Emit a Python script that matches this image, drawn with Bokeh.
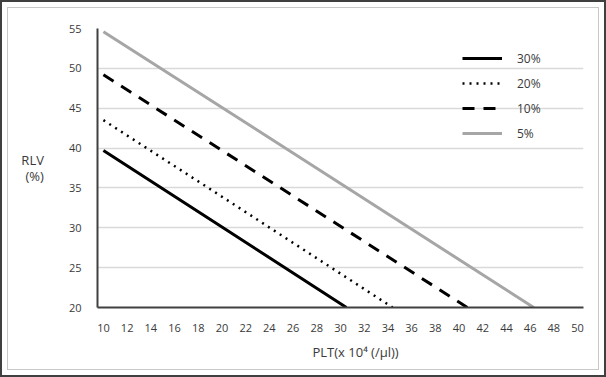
from bokeh.plotting import figure
from bokeh.models import FixedTicker, Legend, LegendItem, Title
from bokeh.embed import file_html
from bokeh.resources import INLINE

# Data
x_30 = [10, 20, 30.5]
y_30 = [39.7, 30.1, 20]
x_20 = [10, 20, 34.4]
y_20 = [43.5, 33.9, 20]
x_10 = [10, 20, 40.7]
y_10 = [49.2, 39.7, 20]
x_5 = [10, 20, 46.3]
y_5 = [54.6, 45.1, 20]

series_labels = ["30%", "20%", "10%", "5%"]
x_ticks = list(range(10, 51, 2))
y_ticks = [20, 25, 30, 35, 40, 45, 50, 55]

FONT = "Open Sans"
TXT = "#3a3a3a"

p = figure(width=606, height=377, x_range=(9.5, 50.5), y_range=(20, 55),
           output_backend="svg", toolbar_location=None,
           min_border_left=97, min_border_right=23, min_border_top=28, min_border_bottom=70)
p.styles = {"background-color": "white",
            "box-shadow": "inset 0 0 0 2px #404040, inset 0 0 0 7px #ffffff, inset 0 0 0 8px #c8c8c8"}
p.border_fill_color = None
p.outline_line_color = None
p.background_fill_color = "white"

r30 = p.line(x_30, y_30, line_color="black", line_width=3)
r20 = p.line(x_20, y_20, line_color="black", line_width=2.5, line_dash="2 5")
r10 = p.line(x_10, y_10, line_color="black", line_width=3, line_dash="12 9")
r5 = p.line(x_5, y_5, line_color="#a6a6a6", line_width=3)

for ax in (p.xaxis[0], p.yaxis[0]):
    ax.major_tick_line_color = None
    ax.minor_tick_line_color = None
    ax.axis_line_color = "#404040"
    ax.axis_line_width = 2
    ax.major_label_text_font = FONT
    ax.major_label_text_font_size = "11px"
    ax.major_label_text_color = TXT
    ax.major_label_standoff = 10

p.xaxis.ticker = FixedTicker(ticks=x_ticks)
p.yaxis.ticker = FixedTicker(ticks=y_ticks)
p.xgrid.grid_line_color = None
p.ygrid.grid_line_color = "#d9d9d9"
p.ygrid.grid_line_width = 1.5
p.ygrid.ticker = FixedTicker(ticks=y_ticks)

# y axis title, horizontal
p.yaxis.axis_label = "RLV\n(%)"
p.yaxis.axis_label_orientation = "horizontal"
p.yaxis.axis_label_text_font = FONT
p.yaxis.axis_label_text_font_size = "13px"
p.yaxis.axis_label_text_font_style = "normal"
p.yaxis.axis_label_text_color = TXT
p.yaxis.axis_label_text_line_height = 0.9
p.yaxis.axis_label_standoff = 22

# x axis title as a below Title
xt = Title(text="PLT(x 10⁴ (/µl))", align="left", offset=215, standoff=13,
           text_font=FONT, text_font_size="13px", text_font_style="normal",
           text_color=TXT)
p.add_layout(xt, "below")

legend = Legend(items=[LegendItem(label=series_labels[0], renderers=[r30]),
                       LegendItem(label=series_labels[1], renderers=[r20]),
                       LegendItem(label=series_labels[2], renderers=[r10]),
                       LegendItem(label=series_labels[3], renderers=[r5])],
                location=(365, 164), glyph_width=40, glyph_height=20,
                label_height=20, spacing=5, padding=0, margin=0,
                label_standoff=15, border_line_color=None,
                background_fill_alpha=0,
                label_text_font=FONT, label_text_font_size="12px",
                label_text_color=TXT)
p.add_layout(legend)

open("out.html", "w").write(file_html(p, INLINE))
